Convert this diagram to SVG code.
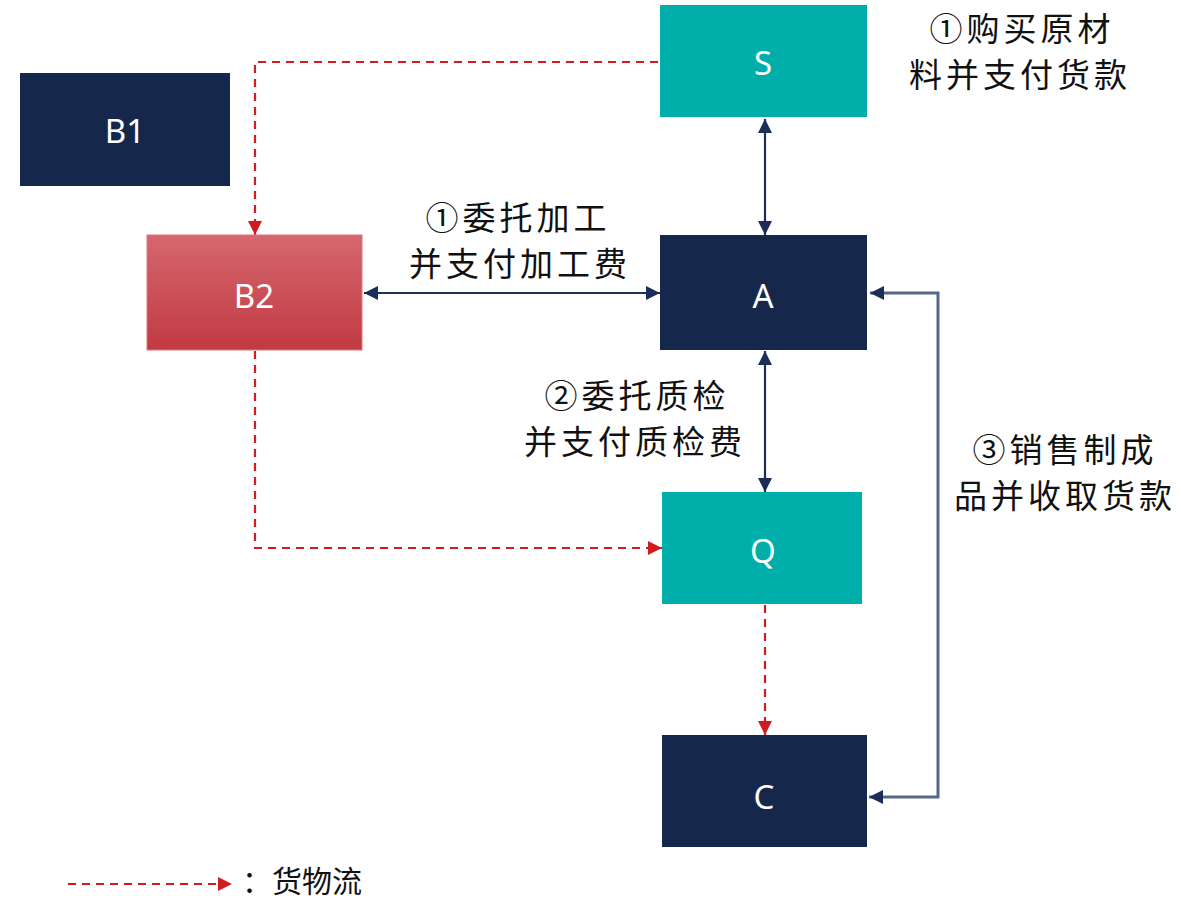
<svg xmlns="http://www.w3.org/2000/svg" width="1181" height="899" viewBox="0 0 1181 899">
<defs>
<linearGradient id="gB2" x1="0" y1="0" x2="0" y2="1">
<stop offset="0" stop-color="#D6676E"/>
<stop offset="1" stop-color="#C13A42"/>
</linearGradient>
<marker id="an" markerUnits="userSpaceOnUse" markerWidth="16" markerHeight="16" refX="14" refY="7" orient="auto-start-reverse">
<path d="M0,0 L14,7 L0,14 Z" fill="#1B2E57"/>
</marker>
<marker id="ar" markerUnits="userSpaceOnUse" markerWidth="16" markerHeight="16" refX="14" refY="7" orient="auto-start-reverse">
<path d="M0,0 L14,7 L0,14 Z" fill="#D01C1F"/>
</marker>
<style>
.navy{fill:#15284B}
.teal{fill:#00AEA9}
.lbl{font-family:"Noto Sans","Open Sans","Liberation Sans",sans-serif;font-size:33px;fill:#FFFFFF;text-anchor:middle;dominant-baseline:central}
.cn{font-family:"Noto Sans CJK SC","Noto Sans",sans-serif;font-size:33px;fill:#111111;text-anchor:middle;letter-spacing:4px}
.bl{fill:none;stroke:#1B2E57;stroke-width:2.2}
.gl{fill:none;stroke:#56678A;stroke-width:3}
.rd{fill:none;stroke:#D01C1F;stroke-width:2.2;stroke-dasharray:8,6}
</style>
</defs>
<g id="connectors">
<line class="bl" x1="765" y1="119" x2="765" y2="235" marker-start="url(#an)" marker-end="url(#an)"/>
<line class="bl" x1="364" y1="293" x2="660" y2="293" marker-start="url(#an)" marker-end="url(#an)"/>
<line class="bl" x1="765" y1="351" x2="765" y2="492" marker-start="url(#an)" marker-end="url(#an)"/>
<path class="gl" d="M870,293 H938 V797 H869" marker-start="url(#an)" marker-end="url(#an)"/>
<path class="rd" d="M658,62 H255 V235" marker-end="url(#ar)"/>
<path class="rd" d="M255,351 V548 H662" marker-end="url(#ar)"/>
<path class="rd" d="M765,605 V735" marker-end="url(#ar)"/>
</g>
<g id="node-S"><rect class="teal" x="660" y="5" width="207" height="112"/><text class="lbl" x="763" y="62">S</text></g>
<g id="node-B1"><rect class="navy" x="20" y="73" width="210" height="113"/><text class="lbl" x="125" y="130">B1</text></g>
<g id="node-B2"><rect x="147" y="235" width="215" height="115" fill="url(#gB2)" stroke="#D9787E" stroke-width="1"/><text class="lbl" x="254" y="295">B2</text></g>
<g id="node-A"><rect class="navy" x="660" y="235" width="207" height="115"/><text class="lbl" x="763" y="295">A</text></g>
<g id="node-Q"><rect class="teal" x="662" y="492" width="200" height="112"/><text class="lbl" x="763" y="550">Q</text></g>
<g id="node-C"><rect class="navy" x="662" y="735" width="205" height="112"/><text class="lbl" x="764" y="796">C</text></g>
<g id="labels">
<text class="cn" x="1022" y="41">①购买原材</text>
<text class="cn" x="1020" y="87">料并支付货款</text>
<text class="cn" x="518" y="230">①委托加工</text>
<text class="cn" x="520" y="276">并支付加工费</text>
<text class="cn" x="637" y="408">②委托质检</text>
<text class="cn" x="635" y="454">并支付质检费</text>
<text class="cn" x="1065" y="462">③销售制成</text>
<text class="cn" x="1065" y="508">品并收取货款</text>
</g>
<g id="legend">
<path class="rd" d="M68,884 H232" marker-end="url(#ar)"/>
<text x="242" y="892" font-family="'Noto Sans CJK SC','Noto Sans',sans-serif" font-size="30" fill="#111111">：货物流</text>
</g>
</svg>
